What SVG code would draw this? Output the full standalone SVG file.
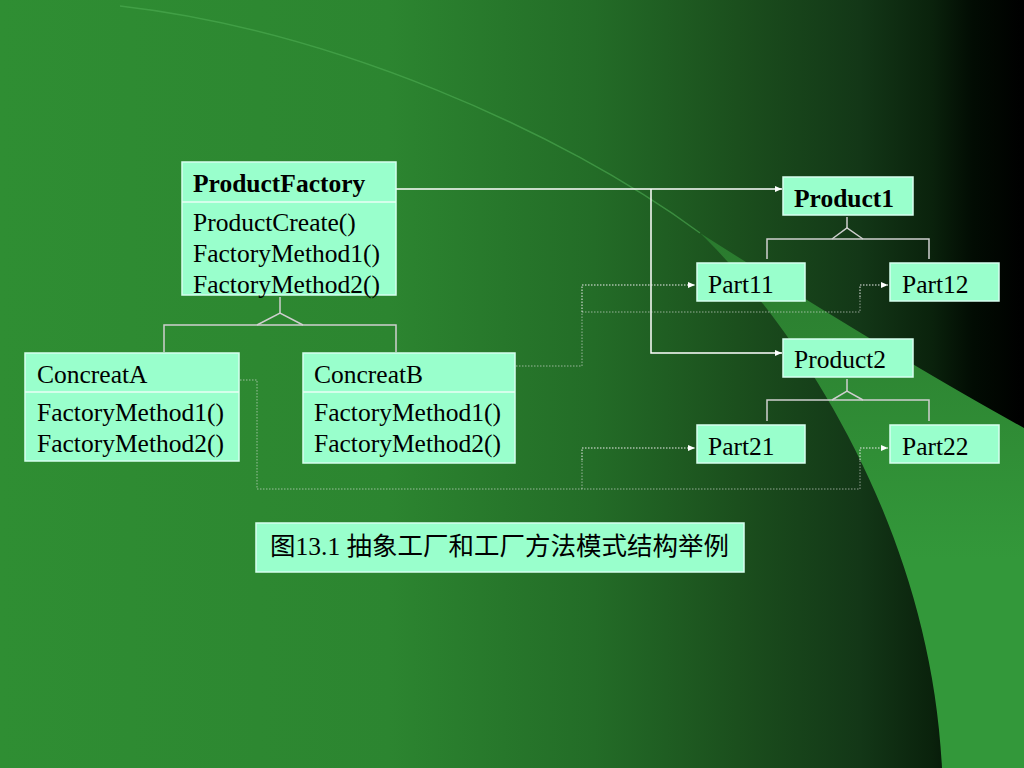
<svg xmlns="http://www.w3.org/2000/svg" width="1024" height="768" viewBox="0 0 1024 768">
<defs>
<linearGradient id="bg" x1="0" y1="0" x2="1024" y2="0" gradientUnits="userSpaceOnUse">
<stop offset="0" stop-color="#2f8e33"/>
<stop offset="0.38" stop-color="#2c8530"/>
<stop offset="0.58" stop-color="#236c27"/>
<stop offset="0.72" stop-color="#1b4f1d"/>
<stop offset="0.84" stop-color="#133717"/>
<stop offset="0.91" stop-color="#0a220c"/>
<stop offset="0.95" stop-color="#020c03"/>
<stop offset="1" stop-color="#000000"/>
</linearGradient>
<linearGradient id="wedge" x1="0" y1="233" x2="0" y2="560" gradientUnits="userSpaceOnUse">
<stop offset="0" stop-color="#2a7a2e"/>
<stop offset="1" stop-color="#33983a"/>
</linearGradient>
<marker id="arr" markerWidth="8" markerHeight="8" refX="7" refY="4" orient="auto" markerUnits="userSpaceOnUse">
<path d="M0,1 L7,4 L0,7 z" fill="#ffffff"/>
</marker>
<style>
.box { fill:#99ffcc; stroke:#d6fff0; stroke-width:1.5; }
.sep { stroke:#eafff6; stroke-width:1.5; }
.t { font-family:"Liberation Serif","Times New Roman",serif; font-size:25.5px; fill:#000000; }
.b { font-weight:bold; }
.cj { font-family:"Liberation Serif","Noto Sans CJK SC",serif; font-size:25.5px; fill:#000000; }
.solid { stroke:#ffffff; stroke-width:1.5; fill:none; }
.inh { stroke:#cfcfcf; stroke-width:1.5; fill:none; }
.dot { stroke:#ececec; stroke-width:1; stroke-dasharray:1.5 1.5; fill:none; }
.dotf { stroke:#e6e6e6; stroke-width:1; stroke-dasharray:1.5 1.5; fill:none; opacity:0.6; }
</style>
</defs>

<g id="background">
<rect x="0" y="0" width="1024" height="768" fill="url(#bg)"/>
<path d="M700,233 C790,320 930,520 942,768 L1024,768 L1024,428 Q900,360 700,233 Z" fill="url(#wedge)"/>
<path d="M120,6 C330,30 560,130 700,233" stroke="#4fae54" stroke-width="1.5" fill="none" opacity="0.6"/>
</g>

<g id="connectors">
<polyline class="solid" points="396,189 782,189" marker-end="url(#arr)"/>
<polyline class="solid" points="651,189 651,353 782,353" marker-end="url(#arr)"/>
<polyline class="inh" points="280,297 280,313"/>
<polyline class="inh" points="257,325 280,313 303,325"/>
<polyline class="inh" points="164,352 164,325 396,325 396,352"/>
<polyline class="inh" points="847,217 847,228"/>
<polyline class="inh" points="832,239 847,228 863,239"/>
<polyline class="inh" points="767,259 767,239 929,239 929,259"/>
<polyline class="inh" points="847,379 847,391"/>
<polyline class="inh" points="832,400 847,391 863,400"/>
<polyline class="inh" points="767,421 767,400 929,400 929,421"/>
<polyline class="dotf" points="516,366 582,366 582,312 860,312 860,297"/>
<polyline class="dot" points="582,312 582,285 695,285" marker-end="url(#arr)"/>
<polyline class="dot" points="860,297 860,285 888,285" marker-end="url(#arr)"/>
<polyline class="dotf" points="240,380 257,380 257,489 860,489 860,460"/>
<polyline class="dotf" points="582,489 582,460"/>
<polyline class="dot" points="582,460 582,448 695,448" marker-end="url(#arr)"/>
<polyline class="dot" points="860,460 860,448 888,448" marker-end="url(#arr)"/>
</g>

<g id="ProductFactory">
<rect class="box" x="182" y="162" width="214" height="133"/>
<line class="sep" x1="182" y1="202" x2="396" y2="202"/>
<text class="t b" x="193" y="192">ProductFactory</text>
<text class="t" x="193" y="231">ProductCreate()</text>
<text class="t" x="193" y="262">FactoryMethod1()</text>
<text class="t" x="193" y="293">FactoryMethod2()</text>
</g>

<g id="ConcreatA">
<rect class="box" x="25" y="353" width="214" height="108"/>
<line class="sep" x1="25" y1="392" x2="239" y2="392"/>
<text class="t" x="37" y="383">ConcreatA</text>
<text class="t" x="37" y="421">FactoryMethod1()</text>
<text class="t" x="37" y="452">FactoryMethod2()</text>
</g>

<g id="ConcreatB">
<rect class="box" x="303" y="353" width="212" height="110"/>
<line class="sep" x1="303" y1="392" x2="515" y2="392"/>
<text class="t" x="314" y="383">ConcreatB</text>
<text class="t" x="314" y="421">FactoryMethod1()</text>
<text class="t" x="314" y="452">FactoryMethod2()</text>
</g>

<g id="Product1">
<rect class="box" x="783" y="177" width="130" height="38"/>
<text class="t b" x="794" y="207">Product1</text>
</g>

<g id="Part11">
<rect class="box" x="697" y="263" width="108" height="38"/>
<text class="t" x="708" y="293">Part11</text>
</g>

<g id="Part12">
<rect class="box" x="890" y="263" width="109" height="38"/>
<text class="t" x="902" y="293">Part12</text>
</g>

<g id="Product2">
<rect class="box" x="783" y="339" width="130" height="38"/>
<text class="t" x="794" y="368">Product2</text>
</g>

<g id="Part21">
<rect class="box" x="697" y="425" width="108" height="38"/>
<text class="t" x="708" y="455">Part21</text>
</g>

<g id="Part22">
<rect class="box" x="890" y="425" width="109" height="38"/>
<text class="t" x="902" y="455">Part22</text>
</g>

<g id="caption">
<rect class="box" x="256" y="523" width="488" height="49"/>
<text class="cj" x="270" y="555">图13.1 抽象工厂和工厂方法模式结构举例</text>
</g>
</svg>
